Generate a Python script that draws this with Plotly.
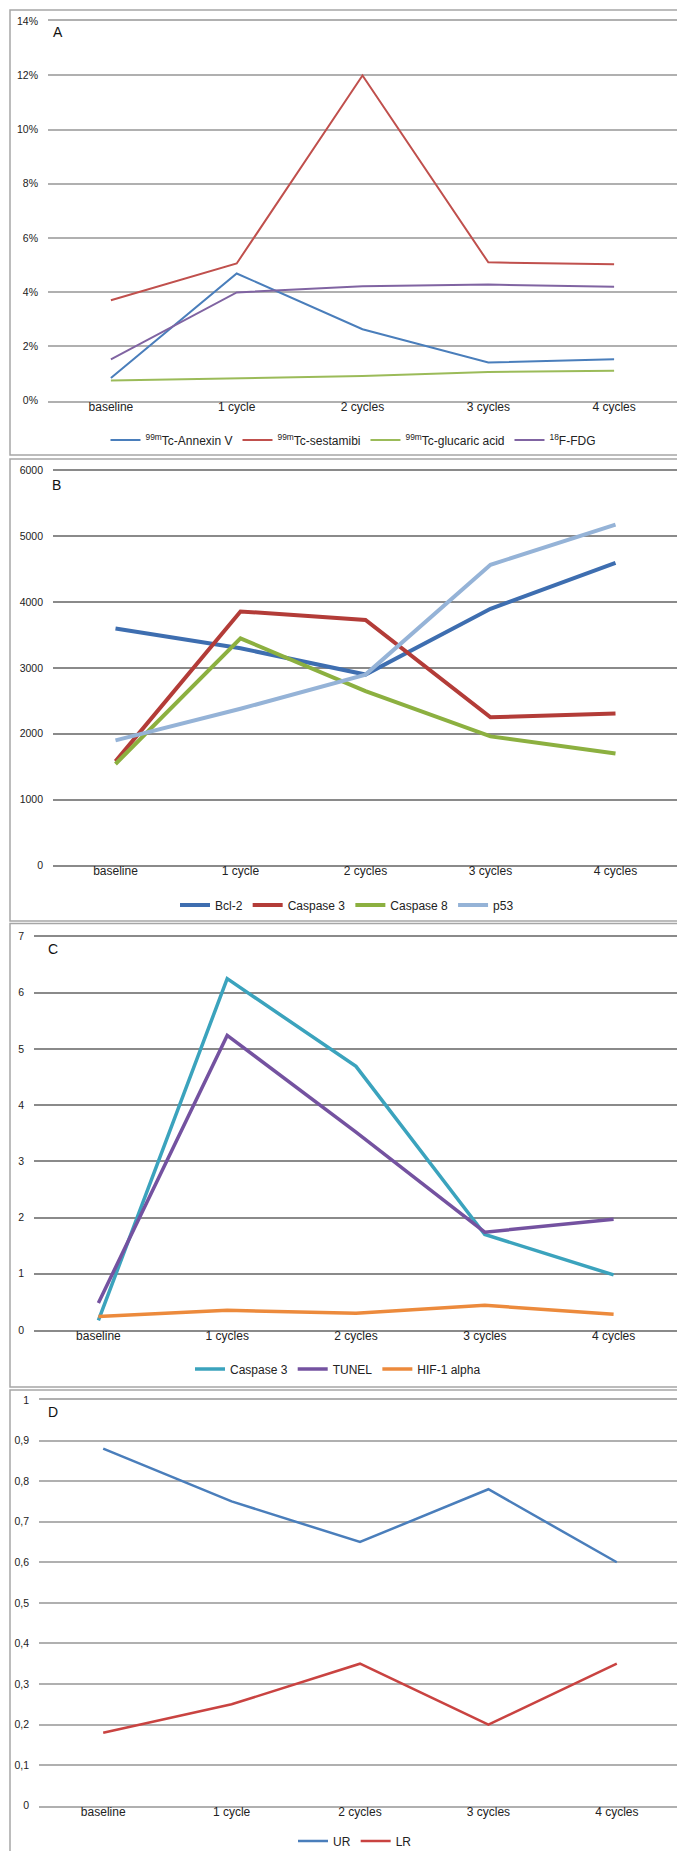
import plotly.graph_objects as go

W, H = 685, 1851

# ---------------- data ----------------
cats_A = ["baseline", "1 cycle", "2 cycles", "3 cycles", "4 cycles"]
annexin = [0.83, 4.69, 2.63, 1.40, 1.52]
sestamibi = [3.70, 5.06, 12.0, 5.10, 5.03]
glucaric = [0.74, 0.81, 0.90, 1.05, 1.10]
fdg = [1.52, 3.99, 4.22, 4.28, 4.20]
yticks_A = [0, 2, 4, 6, 8, 10, 12, 14]
ylabels_A = ["0%", "2%", "4%", "6%", "8%", "10%", "12%", "14%"]

cats_B = ["baseline", "1 cycle", "2 cycles", "3 cycles", "4 cycles"]
bcl2 = [3600, 3300, 2900, 3900, 4600]
casp3_B = [1580, 3860, 3730, 2250, 2310]
casp8 = [1540, 3450, 2650, 1960, 1700]
p53 = [1900, 2380, 2900, 4570, 5180]
yticks_B = [0, 1000, 2000, 3000, 4000, 5000, 6000]
ylabels_B = ["0", "1000", "2000", "3000", "4000", "5000", "6000"]

cats_C = ["baseline", "1 cycles", "2 cycles", "3 cycles", "4 cycles"]
casp3_C = [0.17, 6.25, 4.69, 1.70, 0.98]
tunel = [0.48, 5.24, 3.52, 1.74, 1.97]
hif1 = [0.24, 0.35, 0.30, 0.44, 0.28]
yticks_C = [0, 1, 2, 3, 4, 5, 6, 7]
ylabels_C = ["0", "1", "2", "3", "4", "5", "6", "7"]

cats_D = ["baseline", "1 cycle", "2 cycles", "3 cycles", "4 cycles"]
ur = [0.88, 0.75, 0.65, 0.78, 0.60]
lr = [0.18, 0.25, 0.35, 0.20, 0.35]
yticks_D = [0, 0.1, 0.2, 0.3, 0.4, 0.5, 0.6, 0.7, 0.8, 0.9, 1.0]
ylabels_D = ["0", "0,1", "0,2", "0,3", "0,4", "0,5", "0,6", "0,7", "0,8", "0,9", "1"]

# ---------------- layout helpers ----------------
def fx(x):
    return x / W

def fy(y):
    return 1 - y / H

FONT = "Liberation Sans, Arial, sans-serif"

panels = [
    dict(ax="", x0=40, x1=669, yt=13.3, yb=392.5, rng=[0, 14], tv=yticks_A, tt=ylabels_A, grid="#b0b0b0"),
    dict(ax="2", x0=45, x1=670, yt=462.7, yb=857.3, rng=[0, 6000], tv=yticks_B, tt=ylabels_B, grid="#8a8a8a"),
    dict(ax="3", x0=26, x1=670, yt=928.5, yb=1322, rng=[0, 7], tv=yticks_C, tt=ylabels_C, grid="#8a8a8a"),
    dict(ax="4", x0=31, x1=673, yt=1392, yb=1797.7, rng=[0, 1], tv=yticks_D, tt=ylabels_D, grid="#b0b0b0"),
]

fig = go.Figure()

def add(x, y, name, color, width, ax, legend):
    fig.add_trace(go.Scatter(
        x=x, y=y, name=name, mode="lines",
        line=dict(color=color, width=width),
        xaxis="x" + ax, yaxis="y" + ax, legend=legend, cliponaxis=False,
    ))

add(cats_A, annexin, "<sup>99m</sup>Tc-Annexin V", "#4a7ebb", 2, "", "legend")
add(cats_A, sestamibi, "<sup>99m</sup>Tc-sestamibi", "#c0504d", 2, "", "legend")
add(cats_A, glucaric, "<sup>99m</sup>Tc-glucaric acid", "#9bbb59", 2, "", "legend")
add(cats_A, fdg, "<sup>18</sup>F-FDG", "#8064a2", 2, "", "legend")

add(cats_B, bcl2, "Bcl-2", "#3e6eb0", 4, "2", "legend2")
add(cats_B, casp3_B, "Caspase 3", "#b33c38", 4, "2", "legend2")
add(cats_B, casp8, "Caspase 8", "#8cb040", 4, "2", "legend2")
add(cats_B, p53, "p53", "#95b3d7", 4, "2", "legend2")

add(cats_C, casp3_C, "Caspase 3", "#3ba3bd", 3.5, "3", "legend3")
add(cats_C, tunel, "TUNEL", "#7452a0", 3.5, "3", "legend3")
add(cats_C, hif1, "HIF-1 alpha", "#ec8a3c", 3.5, "3", "legend3")

add(cats_D, ur, "UR", "#4a7ebb", 2.5, "4", "legend4")
add(cats_D, lr, "LR", "#c94341", 2.5, "4", "legend4")

layout = dict(
    width=W, height=H, autosize=False,
    margin=dict(l=0, r=0, t=0, b=0, autoexpand=False),
    paper_bgcolor="white", plot_bgcolor="rgba(0,0,0,0)",
    font=dict(family=FONT, color="#222222", size=12),
    shapes=[], annotations=[],
)

for p in panels:
    a = p["ax"]
    layout["xaxis" + a] = dict(
        domain=[fx(p["x0"]), fx(p["x1"])],
        anchor="y" + a, type="category", range=[-0.5, 4.5],
        showgrid=False, zeroline=False,
        # axis line at the bottom (value 0) and mirrored at the top (max value),
        # standing in for the edge gridlines
        showline=True, mirror="all", linecolor=p["grid"], linewidth=1.5,
        ticks="", layer="below traces",
        tickfont=dict(size=12, family=FONT, color="#222"),
        ticklabelstandoff=-6, fixedrange=True,
    )
    layout["yaxis" + a] = dict(
        domain=[fy(p["yb"]), fy(p["yt"])],
        anchor="x" + a, range=p["rng"],
        tickvals=p["tv"], ticktext=p["tt"],
        showgrid=True, gridcolor=p["grid"], gridwidth=1.5,
        zeroline=False, showline=False, ticks="",
        tickfont=dict(size=10.5, family=FONT, color="#222"),
        ticklabelstandoff=9, fixedrange=True,
    )

# panel borders
borders = [(2, 683.5, 2, 447), (2, 683.5, 451, 913), (2, 683.5, 915.5, 1379), (2, 683.5, 1382, 1849)]
for x0, x1, y0, y1 in borders:
    layout["shapes"].append(dict(
        type="rect", xref="paper", yref="paper",
        x0=fx(x0), x1=fx(x1), y0=fy(y1), y1=fy(y0),
        line=dict(color="#a6a6a6", width=1.5), fillcolor="rgba(0,0,0,0)", layer="below",
    ))

# panel letters
for txt, x, y in [("A", 49.5, 24), ("B", 49, 477), ("C", 45, 941.5), ("D", 45, 1404)]:
    layout["annotations"].append(dict(
        text=txt, xref="paper", yref="paper", x=fx(x), y=fy(y),
        xanchor="center", yanchor="middle", showarrow=False,
        font=dict(size=14, family=FONT, color="#111"),
    ))

leg_common = dict(orientation="h", xanchor="center", yanchor="middle",
                  bgcolor="rgba(0,0,0,0)", itemwidth=30,
                  font=dict(size=12, family=FONT, color="#222"),
                  traceorder="normal", tracegroupgap=0, itemclick=False)
layout["legend"] = dict(leg_common, x=fx(345), y=fy(432))
layout["legend2"] = dict(leg_common, x=fx(339), y=fy(897))
layout["legend3"] = dict(leg_common, x=fx(330), y=fy(1361))
layout["legend4"] = dict(leg_common, x=fx(347), y=fy(1833))
layout["showlegend"] = True

fig.update_layout(**layout)
fig.write_html("out.html")
